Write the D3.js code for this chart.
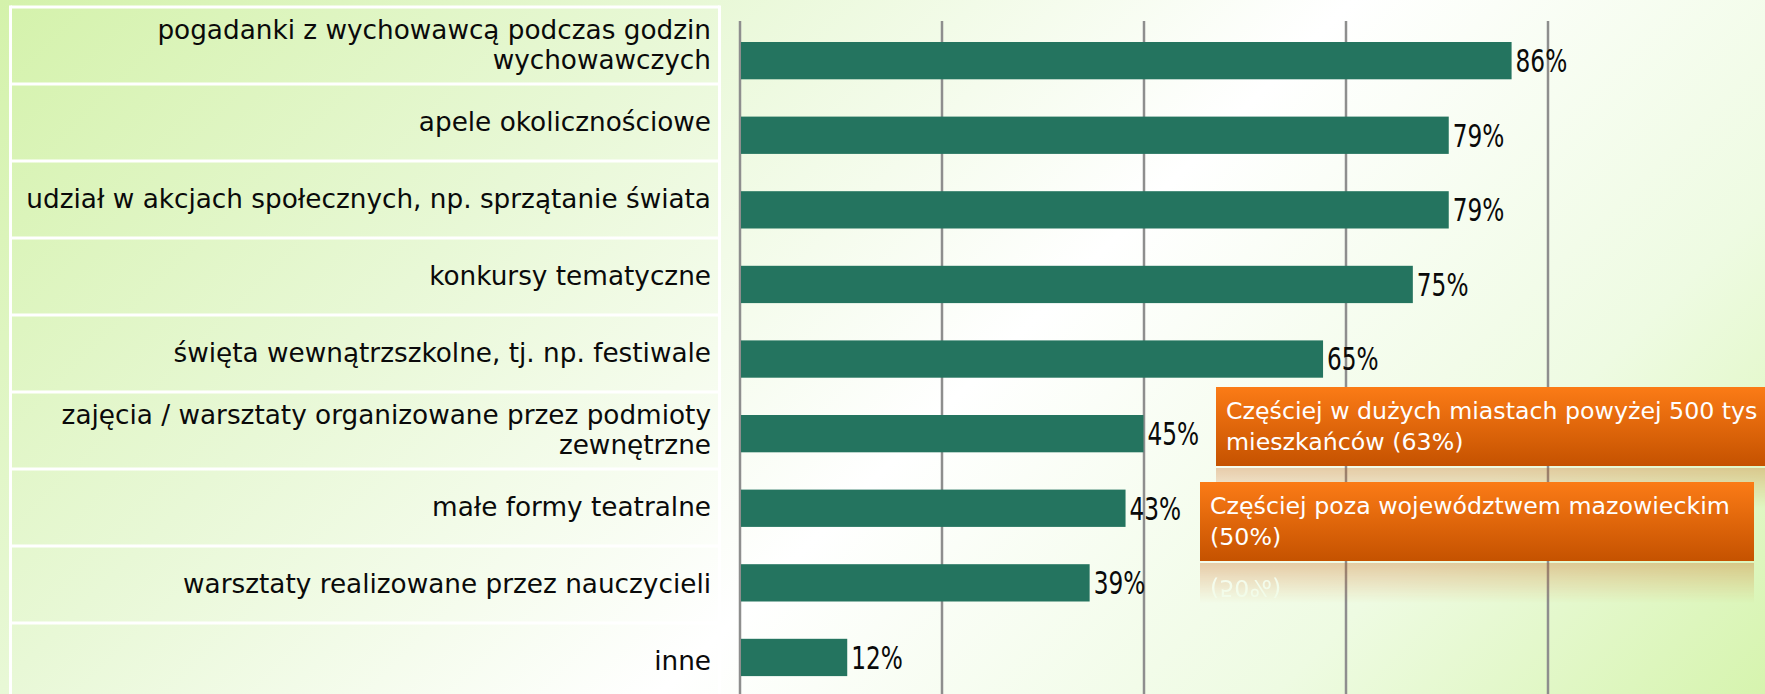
<!DOCTYPE html>
<html><head><meta charset="utf-8">
<script src="https://cdn.jsdelivr.net/npm/d3@7"></script>
<style>html,body{margin:0;padding:0;overflow:hidden;background:#fff} svg{display:block}</style>
</head><body>
<svg id="chart" width="1765" height="694"></svg>
<script>
// ---- data ----
const categories = [
  "pogadanki z wychowawcą podczas godzin\nwychowawczych",
  "apele okolicznościowe",
  "udział w akcjach społecznych, np. sprzątanie świata",
  "konkursy tematyczne",
  "święta wewnątrzszkolne, tj. np. festiwale",
  "zajęcia / warsztaty organizowane przez podmioty\nzewnętrzne",
  "małe formy teatralne",
  "warsztaty realizowane przez nauczycieli",
  "inne"
];
const values = [86, 79, 79, 75, 65, 45, 43, 39, 12];
const gridTicks = [0, 22.5, 45, 67.5, 90];
const calloutTexts = [
  ["Częściej w dużych miastach powyżej 500 tys", "mieszkańców (63%)"],
  ["Częściej poza województwem mazowieckim", "(50%)"]
];

// ---- layout ----
const W = 1765, H = 694;
const svg = d3.select("#chart");
const defs = svg.append("defs");

// background gradient
const bg = defs.append("linearGradient").attr("id", "bg")
  .attr("gradientUnits", "userSpaceOnUse")
  .attr("x1", 0).attr("y1", 0).attr("x2", 1230).attr("y2", 1230);
[[0, "#d4f2ab"], [0.28, "#e8f8d6"], [0.55, "#ffffff"], [0.8, "#eefbe2"], [1, "#d6f4ae"]]
  .forEach(([o, c]) => bg.append("stop").attr("offset", o).attr("stop-color", c));
svg.append("rect").attr("width", W).attr("height", H).attr("fill", "url(#bg)");

// orange box gradient
const og = defs.append("linearGradient").attr("id", "orange").attr("x1", 0).attr("y1", 0).attr("x2", 0).attr("y2", 1);
og.append("stop").attr("offset", 0).attr("stop-color", "#fb7b16");
og.append("stop").attr("offset", 1).attr("stop-color", "#c55200");

// ---- left label panel ----
const rows = d3.scaleBand().domain(categories).range([7, 7 + 77 * categories.length]).padding(0);
const panelL = 10.5, panelR = 719.5;
const panel = svg.append("g");
panel.selectAll("line.h").data(d3.range(categories.length + 1)).join("line")
  .attr("x1", panelL).attr("x2", panelR)
  .attr("y1", i => 7 + rows.step() * i).attr("y2", i => 7 + rows.step() * i)
  .attr("stroke", "#ffffff").attr("stroke-width", 3);
[panelL, panelR].forEach(x => panel.append("line")
  .attr("x1", x).attr("x2", x).attr("y1", 5.5).attr("y2", H + 10)
  .attr("stroke", "#ffffff").attr("stroke-width", 3));

const labelSize = 26.3, lineH = 29.5;
const lab = svg.append("g").attr("font-family", "'DejaVu Sans', sans-serif")
  .attr("font-size", labelSize).attr("fill", "#0a0a0a").attr("text-anchor", "end");
categories.forEach(c => {
  const lines = c.split("\n");
  const cy = rows(c) + rows.bandwidth() / 2;
  const t = lab.append("text");
  lines.forEach((l, j) => {
    t.append("tspan").attr("x", 711)
      .attr("y", cy - (lines.length - 1) * lineH / 2 + j * lineH + 8.5)
      .text(l);
  });
});

// ---- chart ----
const x = d3.scaleLinear().domain([0, 90]).range([739.5, 1547.5]);
const y = d3.scaleBand().domain(categories).range([23.35, 694.75]).paddingInner(0.5).paddingOuter(0.25);

const grid = svg.append("g").attr("transform", "translate(0,21)")
  .call(d3.axisTop(x).tickValues(gridTicks).tickSize(-(H - 21 + 5)).tickFormat(""));
grid.select(".domain").remove();
grid.selectAll(".tick line").attr("stroke", "#8e8e8e").attr("stroke-width", 2.5);

svg.append("g").selectAll("rect").data(values).join("rect")
  .attr("x", x(0) + 1.5)
  .attr("y", (d, i) => y(categories[i]))
  .attr("width", d => x(d) - x(0) - 1.5)
  .attr("height", y.bandwidth())
  .attr("fill", "#24745f");

svg.append("g").attr("font-family", "'DejaVu Sans Condensed', 'DejaVu Sans', sans-serif")
  .attr("font-size", 31.5).attr("fill", "#0a0a0a")
  .selectAll("text").data(values).join("text")
  .attr("transform", (d, i) => `translate(${x(d) + 4},${y(categories[i]) + y.bandwidth() / 2 + 11.3}) scale(0.82,1)`)
  .text(d => d + "%");

// ---- callouts ----
const boxes = [
  { x: 1216, y: 387, w: 560, h: 79 },
  { x: 1200, y: 482, w: 554, h: 79 }
];
boxes.forEach((b, i) => {
  const g = defs.append("g").attr("id", "box" + i);
  g.append("rect").attr("x", b.x).attr("y", b.y).attr("width", b.w).attr("height", b.h).attr("fill", "url(#orange)");
  const t = g.append("text").attr("font-family", "'DejaVu Sans', sans-serif").attr("font-size", 23.7).attr("fill", "#ffffff");
  calloutTexts[i].forEach((l, j) => t.append("tspan").attr("x", b.x + 10).attr("y", b.y + 32 + j * 30.5).text(l));

  const bottom = b.y + b.h;
  const fade = defs.append("linearGradient").attr("id", "fade" + i)
    .attr("gradientUnits", "userSpaceOnUse").attr("x1", 0).attr("x2", 0).attr("y1", bottom).attr("y2", bottom + 42);
  fade.append("stop").attr("offset", 0).attr("stop-color", "#fff").attr("stop-opacity", 0.3);
  fade.append("stop").attr("offset", 1).attr("stop-color", "#fff").attr("stop-opacity", 0);
  const m = defs.append("mask").attr("id", "mask" + i).attr("maskUnits", "userSpaceOnUse")
    .attr("x", 0).attr("y", 0).attr("width", W).attr("height", H);
  m.append("rect").attr("x", b.x).attr("y", bottom + 2).attr("width", b.w).attr("height", 45).attr("fill", "url(#fade" + i + ")");
});
boxes.forEach((b, i) => {
  const bottom = b.y + b.h;
  svg.append("g").attr("mask", "url(#mask" + i + ")")
    .append("use").attr("href", "#box" + i)
    .attr("transform", `translate(0,${2 * bottom + 2}) scale(1,-1)`);
  svg.append("use").attr("href", "#box" + i);
});
</script>
</body></html>
